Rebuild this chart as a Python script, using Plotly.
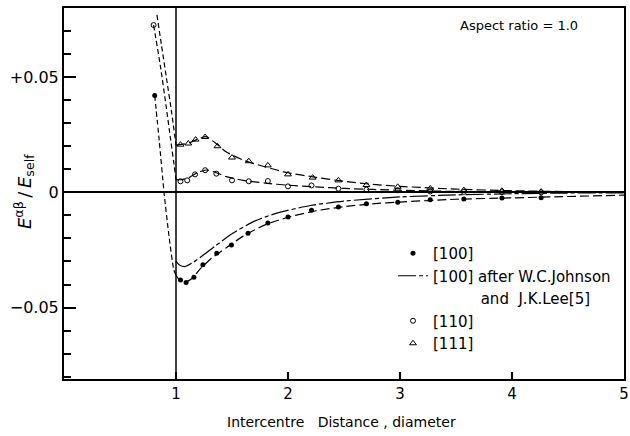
import plotly.graph_objects as go

# ---- data ----
# markers (x >= 1 plus the isolated points left of x = 1)
x100_pts = [0.81, 1.04, 1.09, 1.16, 1.24, 1.364, 1.495, 1.643, 1.82, 2.0, 2.21, 2.45, 2.70, 2.98, 3.27, 3.57, 3.91, 4.26]
y100_pts = [0.042, -0.0380, -0.0391, -0.0368, -0.0314, -0.0264, -0.0229, -0.0177, -0.0133, -0.0107, -0.0078, -0.0064, -0.0049, -0.0043, -0.0032, -0.0029, -0.0025, -0.0023]

x110_pts = [0.80, 1.04, 1.10, 1.17, 1.26, 1.36, 1.50, 1.65, 1.82, 2.0, 2.21, 2.45, 2.70, 2.98, 3.27, 3.57, 3.91, 4.26]
y110_pts = [0.0726, 0.0048, 0.0052, 0.0078, 0.0096, 0.0081, 0.0052, 0.0048, 0.0049, 0.0026, 0.0030, 0.0016, 0.0012, 0.0009, 0.0004, 0.0002, 0.0001, 0.0000]

x111_pts = [1.04, 1.11, 1.175, 1.26, 1.37, 1.50, 1.65, 1.82, 2.0, 2.22, 2.45, 2.70, 2.98, 3.27, 3.57, 3.91, 4.26]
y111_pts = [0.0207, 0.0212, 0.0229, 0.0240, 0.0200, 0.0151, 0.0135, 0.0117, 0.0078, 0.0064, 0.0052, 0.0032, 0.0024, 0.0017, 0.0010, 0.0007, 0.0003]

# dashed curves (x >= 1)
x100_curve = [1.0, 1.04, 1.08, 1.14, 1.22, 1.32, 1.45, 1.6, 1.8, 2.0, 2.25, 2.5, 2.75, 3.0, 3.5, 4.0, 4.5, 5.0]
y100_curve = [-0.036, -0.0385, -0.0390, -0.0375, -0.0330, -0.0285, -0.0240, -0.0190, -0.0140, -0.0108, -0.0080, -0.0062, -0.0050, -0.0042, -0.0030, -0.0024, -0.0018, -0.0012]

x110_curve = [1.0, 1.05, 1.12, 1.19, 1.27, 1.35, 1.45, 1.6, 1.8, 2.0, 2.25, 2.5, 3.0, 3.5, 4.0, 4.5, 5.0]
y110_curve = [0.0055, 0.0055, 0.0065, 0.0085, 0.0097, 0.0087, 0.0068, 0.0052, 0.0040, 0.0031, 0.0024, 0.0017, 0.0009, 0.0004, 0.0002, 0.0001, 0.0]

x111_curve = [1.0, 1.05, 1.12, 1.2, 1.27, 1.35, 1.45, 1.6, 1.8, 2.0, 2.25, 2.5, 2.75, 3.0, 3.5, 4.0, 4.5, 5.0]
y111_curve = [0.0205, 0.0208, 0.0215, 0.0232, 0.0242, 0.0215, 0.0175, 0.0140, 0.0110, 0.0085, 0.0065, 0.0048, 0.0035, 0.0026, 0.0014, 0.0007, 0.0003, 0.0001]

xjl_curve = [1.0, 1.03, 1.08, 1.15, 1.25, 1.35, 1.5, 1.7, 1.9, 2.2, 2.5, 3.0, 3.5, 4.0, 4.5, 5.0]
yjl_curve = [-0.0300, -0.0315, -0.0322, -0.0305, -0.0270, -0.0233, -0.0180, -0.0125, -0.0090, -0.0057, -0.0038, -0.0020, -0.0011, -0.0006, -0.0003, -0.0002]

# dashed branches left of x = 1
x100_left = [0.81, 0.85, 0.893, 0.94, 0.98, 1.0]
y100_left = [0.042, 0.0226, 0.0, -0.020, -0.0335, -0.036]
x110_left = [0.80, 0.86, 0.91, 0.953, 0.98, 1.0]
y110_left = [0.0726, 0.055, 0.038, 0.0226, 0.013, 0.0055]
x111_left = [0.83, 0.87, 0.92, 0.96, 1.0]
y111_left = [0.077, 0.064, 0.048, 0.035, 0.0205]

x_ticks = [1, 2, 3, 4, 5]
y_ticks = [-0.05, 0, 0.05]
y_ticktext = ["\u22120.05", "0", "+0.05"]

NB = "\u00a0"
FONT = "DejaVu Sans"
BLK = "black"

fig = go.Figure()

def curve(x, y, dash, width=1.2):
    fig.add_trace(go.Scatter(x=x, y=y, mode="lines", showlegend=False,
                             line=dict(color=BLK, width=width, dash=dash, shape="spline", smoothing=0.6),
                             hoverinfo="skip"))

curve(x100_left, y100_left, "5px,3px")
curve(x110_left, y110_left, "5px,3px")
curve(x111_left, y111_left, "5px,3px")
curve(x100_curve, y100_curve, "9px,4px")
curve(x110_curve, y110_curve, "9px,4px")
curve(x111_curve, y111_curve, "9px,4px")

fig.add_trace(go.Scatter(x=x100_pts, y=y100_pts, mode="markers", name="[100]",
                         marker=dict(symbol="circle", size=5, color=BLK)))
fig.add_trace(go.Scatter(x=xjl_curve, y=yjl_curve, mode="lines",
                         name="[100] after W.C.Johnson",
                         line=dict(color=BLK, width=1.2, dash="18px,3px,4px,3px", shape="spline", smoothing=0.6)))
# second legend line of the Johnson & Lee entry (text only)
fig.add_trace(go.Scatter(x=[None], y=[None], mode="lines",
                         name=NB * 10 + "and" + NB * 2 + "J.K.Lee[5]",
                         line=dict(color="rgba(0,0,0,0)", width=0), hoverinfo="skip"))
fig.add_trace(go.Scatter(x=x110_pts, y=y110_pts, mode="markers", name="[110]",
                         marker=dict(symbol="circle-open", size=5, color=BLK, line=dict(width=1))))
fig.add_trace(go.Scatter(x=x111_pts, y=y111_pts, mode="markers", name="[111]",
                         marker=dict(symbol="triangle-up-open", size=6, color=BLK, line=dict(width=1))))

fig.add_shape(type="line", xref="x", yref="paper", x0=1, x1=1, y0=0, y1=1,
              line=dict(color=BLK, width=1.5))

fig.add_annotation(text="Aspect ratio = 1.0", xref="paper", yref="paper",
                   x=0.922, y=(379 - 25) / 371, xanchor="right", yanchor="middle", showarrow=False,
                   font=dict(family=FONT, size=13, color=BLK))
fig.add_annotation(text="Intercentre" + NB * 3 + "Distance , diameter", xref="paper", yref="paper",
                   x=(341 - 64) / 560, y=(379 - 422) / 371, xanchor="center", yanchor="middle",
                   showarrow=False, font=dict(family=FONT, size=14, color=BLK))
fig.add_annotation(text="<i>E</i><sup>\u03b1\u03b2</sup>\u2009/\u2009<i>E</i><sub>self</sub>",
                   xref="paper", yref="paper", x=(24 - 64) / 560, y=(379 - 192) / 371,
                   xanchor="center", yanchor="middle", textangle=-90, showarrow=False,
                   font=dict(family=FONT, size=18, color=BLK))

fig.update_layout(
    width=630, height=436,
    margin=dict(l=64, r=6, t=8, b=57, autoexpand=False),
    paper_bgcolor="white", plot_bgcolor="white",
    font=dict(family=FONT, size=14, color=BLK),
    legend=dict(x=(393 - 64) / 560, y=(379 - 237) / 371, xanchor="left", yanchor="top",
                bgcolor="rgba(0,0,0,0)", font=dict(family=FONT, size=15, color=BLK),
                tracegroupgap=0, itemwidth=30),
    xaxis=dict(range=[0, 5], tickvals=x_ticks, ticks="inside", ticklen=7, tickwidth=1.5,
               tickcolor=BLK, showline=True, linecolor=BLK, linewidth=2, mirror=True,
               showgrid=False, zeroline=False, automargin=False, ticklabeloverflow="allow",
               tickfont=dict(family=FONT, size=15)),
    yaxis=dict(range=[-0.081, 0.080], tickvals=y_ticks, ticktext=y_ticktext,
               ticks="inside", ticklen=12, tickwidth=1.5, tickcolor=BLK,
               minor=dict(dtick=0.01, ticks="inside", ticklen=7, tickwidth=1.5, tickcolor=BLK, showgrid=False),
               showline=True, linecolor=BLK, linewidth=2, mirror=True,
               showgrid=False, zeroline=True, zerolinecolor=BLK, zerolinewidth=1.5,
               automargin=False, tickfont=dict(family=FONT, size=16)),
)

fig.write_html("out.html", config={"displayModeBar": False},
               post_script="document.body.style.margin='0';")
